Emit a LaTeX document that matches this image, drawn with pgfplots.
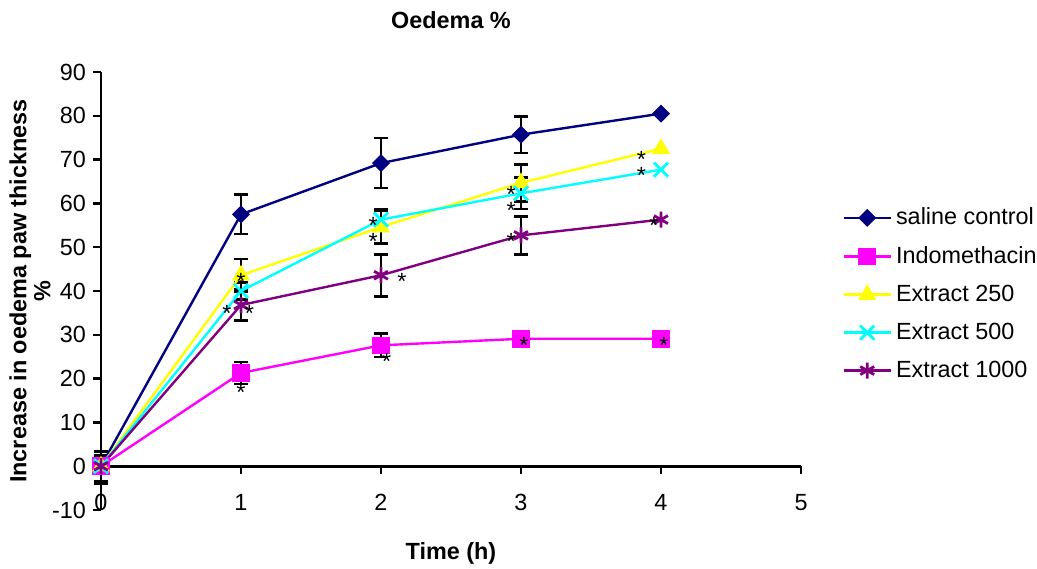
\documentclass[border=0pt]{standalone}
\usepackage{fontspec}
\setmainfont{Liberation Sans}
\usepackage{pgfplots}
\pgfplotsset{compat=1.18}
\definecolor{cnavy}{RGB}{0,0,128}
\definecolor{cmag}{RGB}{255,0,255}
\definecolor{cyel}{RGB}{255,255,0}
\definecolor{ccyan}{RGB}{0,255,255}
\definecolor{cpurp}{RGB}{128,0,128}
\newcommand{\fs}{\fontsize{11.7}{14}\selectfont}
\tikzset{ast/.style={inner sep=0pt, anchor=base, yshift=-6.8pt, font=\fs}}
\pgfplotsset{ebar/.style={draw=none, forget plot, error bars/.cd, y dir=both, y explicit,
  error bar style={draw=black, line width=1.3pt},
  error mark options={draw=black, line width=1.3pt, mark size=3.5pt, rotate=90}}}
\begin{document}
\begin{tikzpicture}
\path[use as bounding box] (-50.5pt,-29pt) rectangle (468pt,255pt);
\begin{axis}[
  scale only axis, width=350pt, height=219pt,
  xmin=0, xmax=5, ymin=-10, ymax=90,
  axis x line*=middle, axis y line*=left,
  hide obscured x ticks=false, hide obscured y ticks=false,
  xtick={0,1,2,3,4,5}, ytick={-10,0,10,20,30,40,50,60,70,80,90},
  /pgf/number format/assume math mode=true,
  tick label style={font=\fs},
  xticklabel style={yshift=-6.5pt},
  axis line style={line width=1.4pt, black},
  tick style={line width=1.2pt, black},
  tick align=outside, major tick length=4pt,
  clip=false,
  title={\textbf{Oedema \%}},
  title style={font=\fs, at={(axis description cs:0.5,1.091)}, anchor=center},
  xlabel={\textbf{Time (h)}},
  xlabel style={font=\fs, at={(axis description cs:0.5,0)}, anchor=center, yshift=-21.5pt},
  ylabel={\textbf{Increase in oedema paw thickness}\\\textbf{\%}},
  ylabel style={font=\fontsize{11.7}{12}\selectfont, align=center, at={(axis description cs:-0.1014,0.5)}, anchor=center},
  legend style={draw=none, fill=none, font=\fs, at={(axis description cs:1.05,0.493)}, anchor=west, row sep=5.3pt},
  legend cell align=left,
  legend image code/.code={\draw[mark repeat=2,mark phase=2] plot coordinates {(0cm,0cm) (0.415cm,0cm) (0.83cm,0cm)};},
]
% error bars (drawn first, no line)
\addplot[ebar] coordinates {(0,0) +- (0,3.4) (1,57.5) +- (0,4.5) (2,69.2) +- (0,5.7) (3,75.7) +- (0,4.2)};
\addplot[ebar] coordinates {(1,21.3) +- (0,2.5) (2,27.6) +- (0,2.7) (3,29.1) +- (0,1.8)};
\addplot[ebar] coordinates {(1,43.6) +- (0,3.7) (2,54.6) +- (0,3.8) (3,64.7) +- (0,4.2)};
\addplot[ebar] coordinates {(1,40.0) +- (0,1.9) (2,56.3) +- (0,2.4) (3,62.3) +- (0,3.6)};
\addplot[ebar] coordinates {(0,-0.8) +- (0,3.2) (1,36.8) +- (0,3.5) (2,43.6) +- (0,4.8) (3,52.7) +- (0,4.3)};

% series
\addplot[cnavy, line width=1.2pt, mark=square*, mark size=2.6pt, mark options={rotate=45, fill=cnavy}]
  coordinates {(0,0) (1,57.5) (2,69.2) (3,75.7) (4,80.5)};
\addlegendentry{saline control}
\addplot[cmag, line width=1.2pt, mark=square*, mark size=3.8pt, mark options={fill=cmag}]
  coordinates {(0,0) (1,21.3) (2,27.6) (3,29.1) (4,29.1)};
\addlegendentry{Indomethacin}
\addplot[cyel, line width=1.2pt, mark=triangle*, mark size=4pt, mark options={fill=cyel}]
  coordinates {(0,0) (1,43.6) (2,54.6) (3,64.7) (4,72.5)};
\addlegendentry{Extract 250}
\addplot[ccyan, line width=1.2pt, mark=x, mark size=5pt, mark options={line width=1.4pt}]
  coordinates {(0,0) (1,40.0) (2,56.3) (3,62.3) (4,67.7)};
\addlegendentry{Extract 500}
\addplot[cpurp, line width=1.2pt, mark=asterisk, mark size=4pt, mark options={line width=1.4pt}]
  coordinates {(0,0) (1,36.8) (2,43.6) (3,52.7) (4,56.3)};
\addlegendentry{Extract 1000}

% positions of the significance marks
\coordinate (s1) at (axis cs:1,43.4);
\coordinate (s2) at (axis cs:0.9,36.2);
\coordinate (s3) at (axis cs:1.06,36.2);
\coordinate (s4) at (axis cs:1,18.0);
\coordinate (s5) at (axis cs:1.945,56.2);
\coordinate (s6) at (axis cs:1.945,52.5);
\coordinate (s7) at (axis cs:2.15,43.4);
\coordinate (s8) at (axis cs:2.04,25.2);
\coordinate (s9) at (axis cs:2.93,63.4);
\coordinate (s10) at (axis cs:2.93,59.6);
\coordinate (s11) at (axis cs:2.93,52.5);
\coordinate (s12) at (axis cs:3.02,28.9);
\coordinate (s13) at (axis cs:3.86,71.4);
\coordinate (s14) at (axis cs:3.86,67.6);
\coordinate (s15) at (axis cs:3.95,56.2);
\coordinate (s16) at (axis cs:4.02,28.9);
\end{axis}
% drawn after the axis so they sit on top of the markers
\foreach \i in {1,...,16} {\node[ast] at (s\i) {*};}
\end{tikzpicture}
\end{document}
